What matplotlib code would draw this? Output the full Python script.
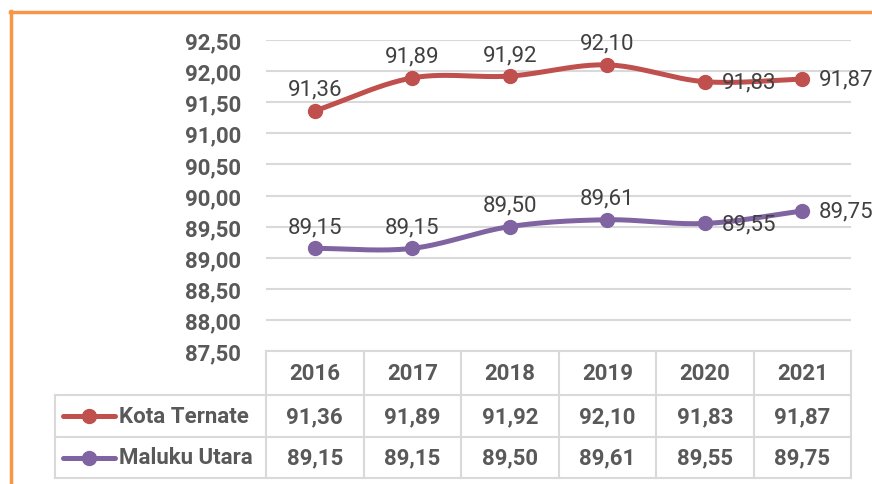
import numpy as np
import matplotlib
matplotlib.use("Agg")
import matplotlib.pyplot as plt
from matplotlib.lines import Line2D

years = ["2016", "2017", "2018", "2019", "2020", "2021"]
kota_ternate = [91.36, 91.89, 91.92, 92.10, 91.83, 91.87]
maluku_utara = [89.15, 89.15, 89.50, 89.61, 89.55, 89.75]
series_names = ["Kota Ternate", "Maluku Utara"]
y_ticks = [87.5, 88.0, 88.5, 89.0, 89.5, 90.0, 90.5, 91.0, 91.5, 92.0, 92.5]

colors = ["#C0504D", "#8064A2"]
label_pos = [
    ["above", "above", "above", "above", "right", "right"],
    ["above", "above", "above", "above", "right", "right"],
]

def fmt(v):
    return f"{v:.2f}".replace(".", ",")

def smooth(x, y, n=30):
    x = np.asarray(x, float); y = np.asarray(y, float)
    px = np.concatenate([[2 * x[0] - x[1]], x, [2 * x[-1] - x[-2]]])
    py = np.concatenate([[2 * y[0] - y[1]], y, [2 * y[-1] - y[-2]]])
    xs, ys = [], []
    t = np.linspace(0, 1, n)
    for i in range(1, len(px) - 2):
        p0, p1, p2, p3 = [np.array([px[j], py[j]]) for j in range(i - 1, i + 3)]
        c1 = p1 + (p2 - p0) / 6
        c2 = p2 - (p3 - p1) / 6
        b = ((1 - t) ** 3)[:, None] * p1 + (3 * (1 - t) ** 2 * t)[:, None] * c1 + \
            (3 * (1 - t) * t ** 2)[:, None] * c2 + (t ** 3)[:, None] * p2
        xs.extend(b[:, 0]); ys.extend(b[:, 1])
    return np.array(xs), np.array(ys)

W, H = 872, 485
fig = plt.figure(figsize=(W / 100, H / 100), dpi=100)
fig.patch.set_facecolor("white")

FS = 16
L, R, T, B = 266, 851, 41, 352
ax = fig.add_axes([L / W, 1 - B / H, (R - L) / W, (B - T) / H])
ax.set_xlim(-0.5, len(years) - 0.5)
ax.set_ylim(y_ticks[0], y_ticks[-1])
ax.set_yticks(y_ticks)
ax.set_yticklabels([fmt(v) for v in y_ticks], fontfamily="Roboto", fontweight="bold",
                   fontsize=FS, color="#595959")
ax.tick_params(axis="y", length=0, pad=18)
ax.set_xticks([])
for s in ax.spines.values():
    s.set_visible(False)
ax.grid(axis="y", color="#D9D9D9", linewidth=1.5)
ax.set_axisbelow(True)
ax.patch.set_alpha(0)

x = np.arange(len(years))
for vals, c, pos in zip([kota_ternate, maluku_utara], colors, label_pos):
    sx, sy = smooth(x, vals)
    ax.plot(sx, sy, color=c, lw=3.6, solid_capstyle="round", zorder=3)
    ax.plot(x, vals, "o", color=c, ms=10, zorder=4)
    for xi, v, p in zip(x, vals, pos):
        if p == "above":
            ax.annotate(fmt(v), (xi, v), xytext=(0, 8), textcoords="offset points",
                        ha="center", va="bottom", fontsize=FS, color="#404040",
                        fontfamily="Roboto", zorder=5)
        else:
            ax.annotate(fmt(v), (xi, v), xytext=(12, 0), textcoords="offset points",
                        ha="left", va="center", fontsize=FS, color="#404040",
                        fontfamily="Roboto", zorder=5)

def fy(py):
    return 1 - py / H
def fx(px):
    return px / W

gcol = "#D9D9D9"
row_edges = [352, 396, 438, 479]
col_edges = [55, 266] + [266 + (R - L) / 6 * (i + 1) for i in range(6)]
lw = 1.5
fig.add_artist(Line2D([fx(266), fx(R)], [fy(352), fy(352)], color=gcol, lw=lw))
for ry in row_edges[1:]:
    fig.add_artist(Line2D([fx(55), fx(R)], [fy(ry), fy(ry)], color=gcol, lw=lw))
fig.add_artist(Line2D([fx(55), fx(55)], [fy(396), fy(479)], color=gcol, lw=lw))
for cx in col_edges[1:]:
    fig.add_artist(Line2D([fx(cx), fx(cx)], [fy(352), fy(479)], color=gcol, lw=lw))

tkw = dict(fontfamily="Roboto", fontweight="bold", fontsize=FS, color="#595959",
           ha="center", va="center")
for i, yr in enumerate(years):
    cx = (col_edges[i + 1] + col_edges[i + 2]) / 2
    fig.text(fx(cx), fy((352 + 396) / 2), yr, **tkw)
    fig.text(fx(cx), fy((396 + 438) / 2), fmt(kota_ternate[i]), **tkw)
    fig.text(fx(cx), fy((438 + 479) / 2), fmt(maluku_utara[i]), **tkw)

for name, c, (r0, r1) in zip(series_names, colors, [(396, 438), (438, 479)]):
    cy = fy((r0 + r1) / 2)
    fig.add_artist(Line2D([fx(63), fx(115)], [cy, cy], color=c, lw=3.6, solid_capstyle="round"))
    fig.add_artist(Line2D([fx(89)], [cy], marker="o", color=c, ms=10))
    fig.text(fx(119), cy, name, fontfamily="Roboto", fontweight="bold", fontsize=FS,
             color="#595959", ha="left", va="center")

oc = "#F79646"
fig.add_artist(Line2D([fx(11), fx(11)], [fy(12), 0], color=oc, lw=2.5))
fig.add_artist(Line2D([fx(10), 1], [fy(13), fy(13)], color=oc, lw=2.5))

fig.savefig("out.png", dpi=100)
